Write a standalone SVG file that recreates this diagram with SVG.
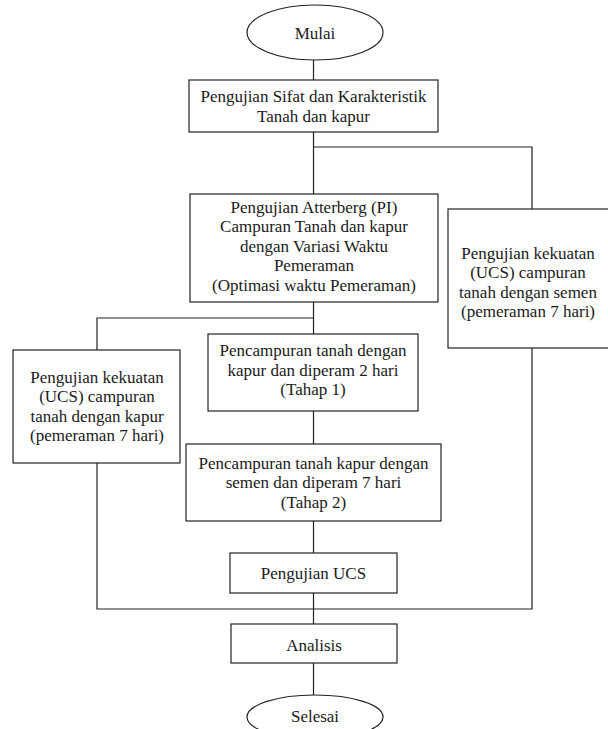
<svg xmlns="http://www.w3.org/2000/svg" width="608" height="729" viewBox="0 0 608 729">
<style>
.n{fill:#fff;stroke:#222;stroke-width:1.2}
.c{fill:none;stroke:#222;stroke-width:1.2}
text{font-family:"Liberation Serif","Times New Roman",serif;font-size:17px;fill:#1a1a1a;text-anchor:middle;dominant-baseline:central}
</style>
<rect width="608" height="729" fill="#fff"/>
<g id="connectors">
<path class="c" d="M313.5,60V80M313.5,132V194M313.5,147H532V209M313.5,302V334M313.5,318H97V350M313.5,411V444M313.5,521V553M313.5,593V624M97,463V609H532V348M313.5,663V695"/>
</g>
<g id="mulai"><ellipse class="n" cx="315" cy="32.5" rx="68" ry="27.5"/><text x="315" y="33">Mulai</text></g>
<g id="sifat"><rect class="n" x="189" y="80" width="249" height="52"/><text x="313.5" y="96.5">Pengujian Sifat dan Karakteristik</text><text x="313.5" y="116">Tanah dan kapur</text></g>
<g id="atterberg"><rect class="n" x="190" y="194" width="248" height="108"/>
<text x="314" y="207">Pengujian Atterberg (PI)</text><text x="314" y="226.5">Campuran Tanah dan kapur</text><text x="314" y="246">dengan Variasi Waktu</text><text x="314" y="265.5">Pemeraman</text><text x="314" y="285">(Optimasi waktu Pemeraman)</text></g>
<g id="ucs-semen"><rect class="n" x="448" y="209" width="170" height="139"/>
<text x="528" y="253">Pengujian kekuatan</text><text x="528" y="272.5">(UCS) campuran</text><text x="528" y="292">tanah dengan semen</text><text x="528" y="311.5">(pemeraman 7 hari)</text></g>
<g id="ucs-kapur"><rect class="n" x="13" y="350" width="167" height="113"/>
<text x="97" y="377">Pengujian kekuatan</text><text x="97" y="396.5">(UCS) campuran</text><text x="97" y="416">tanah dengan kapur</text><text x="97" y="435.5">(pemeraman 7 hari)</text></g>
<g id="tahap1"><rect class="n" x="208" y="334" width="210" height="77"/>
<text x="313" y="350.5">Pencampuran tanah dengan</text><text x="313" y="370">kapur dan diperam 2 hari</text><text x="313" y="389.5">(Tahap 1)</text></g>
<g id="tahap2"><rect class="n" x="186" y="444" width="255" height="77"/>
<text x="313.5" y="463">Pencampuran tanah kapur dengan</text><text x="313.5" y="482.5">semen dan diperam 7 hari</text><text x="313.5" y="502">(Tahap 2)</text></g>
<g id="uji-ucs"><rect class="n" x="230" y="553" width="167" height="40"/><text x="313.5" y="573">Pengujian UCS</text></g>
<g id="analisis"><rect class="n" x="231" y="624" width="166" height="39"/><text x="314" y="645">Analisis</text></g>
<g id="selesai"><ellipse class="n" cx="315" cy="717" rx="68" ry="22"/><text x="315" y="716">Selesai</text></g>
</svg>
